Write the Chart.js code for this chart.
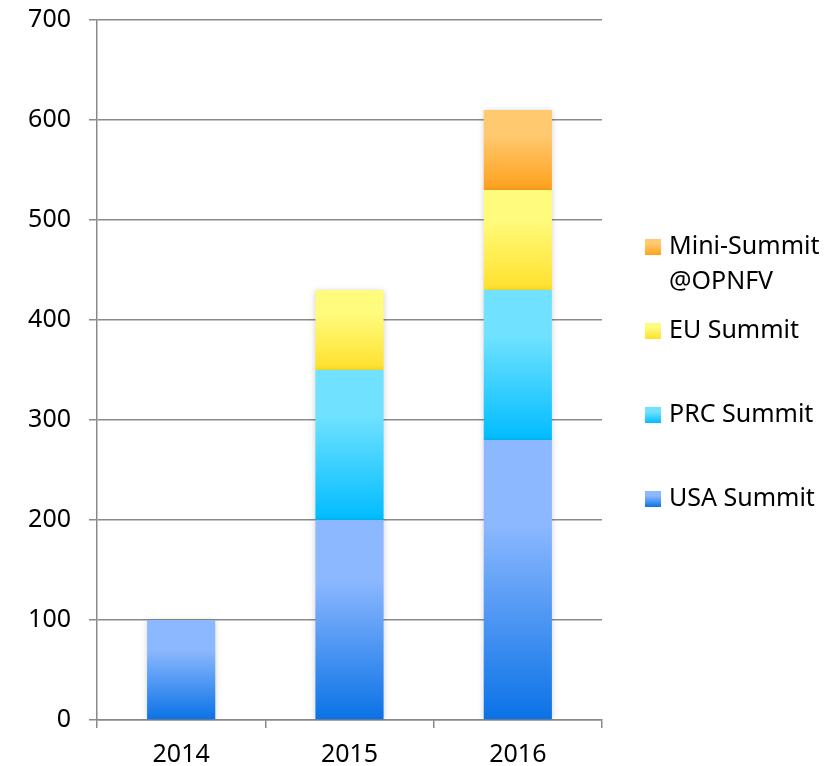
<!DOCTYPE html>
<html>
<head>
<meta charset="utf-8">
<script src="https://cdn.jsdelivr.net/npm/chart.js@4.4.1/dist/chart.umd.min.js"></script>
<style>
    body { margin: 0; background: #fff; }
    canvas { display: block; }
</style>
</head>
<body>
<canvas id="summitChart" width="833" height="766"></canvas>
<script>
const years = ['2014', '2015', '2016'];
const usaSummit = [100, 200, 280];
const prcSummit = [0, 150, 150];
const euSummit = [0, 80, 100];
const miniSummit = [0, 0, 80];
const seriesNames = ['USA Summit', 'PRC Summit', 'EU Summit', 'Mini-Summit\n@OPNFV'];
const yTicks = [0, 100, 200, 300, 400, 500, 600, 700];

const FONT = '"Noto Sans", "Open Sans", sans-serif';

// light top -> dark bottom for each series
const shades = [
    ['#8cb8ff', '#0a72e6'],
    ['#70e2ff', '#00bcff'],
    ['#fffb7c', '#ffe02c'],
    ['#ffc970', '#ffa11c']
];

function makeGradient(ctx, top, bottom, pair) {
    const g = ctx.createLinearGradient(0, top, 0, bottom);
    g.addColorStop(0, pair[0]);
    g.addColorStop(0.3, pair[0]);
    g.addColorStop(1, pair[1]);
    return g;
}

function segmentFill(seriesIndex) {
    return (context) => {
        const chart = context.chart;
        const yScale = chart.scales.y;
        if (!chart.chartArea || !yScale || context.dataIndex === undefined) return shades[seriesIndex][1];
        const datasets = chart.data.datasets;
        let start = 0;
        for (let i = 0; i < context.datasetIndex; i++) {
            start += datasets[i].data[context.dataIndex] || 0;
        }
        const end = start + (datasets[context.datasetIndex].data[context.dataIndex] || 0);
        const top = yScale.getPixelForValue(end);
        const bottom = yScale.getPixelForValue(start);
        if (bottom - top < 1) return shades[seriesIndex][1];
        return makeGradient(chart.ctx, top, bottom, shades[seriesIndex]);
    };
}

// soft shadow round the bars
const barShadow = {
    id: 'barShadow',
    beforeDatasetsDraw(chart) {
        const ctx = chart.ctx;
        ctx.save();
        ctx.shadowColor = 'rgba(0, 0, 0, 0.18)';
        ctx.shadowBlur = 6;
        ctx.shadowOffsetX = 0;
        ctx.shadowOffsetY = 1;
    },
    afterDatasetsDraw(chart) {
        chart.ctx.restore();
    }
};

// legend on the right, reversed order, labels may span two lines
const sideLegend = {
    id: 'sideLegend',
    afterDraw(chart) {
        const ctx = chart.ctx;
        const datasets = chart.data.datasets;
        const boxX = 645, box = 16, textX = 669;
        const firstY = 247, step = 84, lineH = 35;
        ctx.save();
        ctx.font = '25px ' + FONT;
        ctx.textBaseline = 'middle';
        ctx.textAlign = 'left';
        for (let n = 0; n < datasets.length; n++) {
            const idx = datasets.length - 1 - n;
            const cy = firstY + n * step;
            ctx.fillStyle = makeGradient(ctx, cy - box / 2, cy + box / 2, shades[idx]);
            ctx.fillRect(boxX, cy - box / 2, box, box);
            ctx.fillStyle = '#000';
            datasets[idx].label.split('\n').forEach((line, k) => {
                ctx.fillText(line, textX, cy + k * lineH);
            });
        }
        ctx.restore();
    }
};

const seriesData = [usaSummit, prcSummit, euSummit, miniSummit];

new Chart(document.getElementById('summitChart').getContext('2d'), {
    type: 'bar',
    data: {
        labels: years,
        datasets: seriesData.map((values, i) => ({
            label: seriesNames[i],
            data: values,
            backgroundColor: segmentFill(i),
            borderWidth: 0,
            categoryPercentage: 1,
            barPercentage: 0.405
        }))
    },
    options: {
        responsive: false,
        animation: false,
        layout: {
            padding: { left: 0, right: 231, top: 20, bottom: 0 }
        },
        plugins: {
            legend: { display: false },
            tooltip: { enabled: false }
        },
        scales: {
            x: {
                stacked: true,
                afterFit: (scale) => {
                    scale.height = 46;
                    scale.paddingLeft = 0;
                    scale.paddingRight = 0;
                },
                border: { display: true, color: '#8a8a8a', width: 1.5 },
                grid: {
                    offset: true,
                    drawOnChartArea: false,
                    drawTicks: true,
                    tickLength: 8,
                    color: '#8a8a8a',
                    lineWidth: 1.5
                },
                ticks: {
                    color: '#000',
                    padding: 12,
                    font: { family: FONT, size: 25 }
                }
            },
            y: {
                stacked: true,
                min: 0,
                max: 700,
                afterFit: (scale) => {
                    scale.width = 97;
                    scale.paddingTop = 0;
                    scale.paddingBottom = 0;
                },
                afterBuildTicks: (scale) => {
                    scale.ticks = yTicks.map(v => ({ value: v }));
                },
                border: { display: true, color: '#8a8a8a', width: 1.5 },
                grid: {
                    color: '#8a8a8a',
                    lineWidth: 1.5,
                    tickLength: 8
                },
                ticks: {
                    color: '#000',
                    padding: 18,
                    font: { family: FONT, size: 25 }
                }
            }
        }
    },
    plugins: [barShadow, sideLegend]
});
</script>
</body>
</html>
